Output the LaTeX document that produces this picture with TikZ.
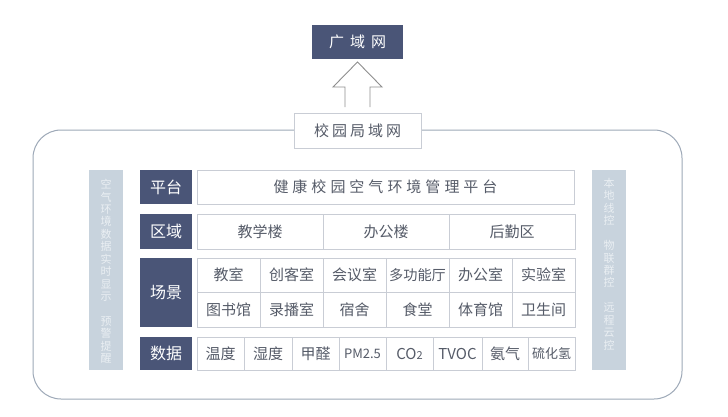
\documentclass[tikz,border=0pt]{standalone}
\usepackage{fontspec}
\setmainfont{Noto Sans CJK SC}
\usetikzlibrary{calc}
\definecolor{navy}{HTML}{4A5577}
\definecolor{cellc}{HTML}{C9CDD5}
\definecolor{txt}{HTML}{555B68}
\definecolor{side}{HTML}{C8D3DD}
\definecolor{sidetxt}{HTML}{EAEFF3}
\definecolor{framec}{HTML}{9EA9B8}
\definecolor{arrowc}{HTML}{8E8E8E}
\begin{document}
\begin{tikzpicture}[x=1pt,y=-1pt,
  box/.style={anchor=north west, inner sep=0pt, outer sep=0pt},
  cell/.style={box, draw=cellc, line width=0.8pt, fill=white, text=txt, font=\fontsize{15}{15}\selectfont},
  lab/.style={box, fill=navy, text=white, font=\fontsize{16}{16}\selectfont, minimum width=52pt},
  sidebar/.style={box, fill=side, minimum width=34pt, minimum height=200pt},
  vtext/.style={text=sidetxt, font=\fontsize{11}{12.45}\selectfont, align=center, inner sep=0pt}
]
\useasboundingbox (0,0) rectangle (728,416);
\fill[white] (0,0) rectangle (728,416);

% outer frame
\draw[framec, line width=1pt, rounded corners=28pt] (33,130) rectangle (682,399);

% top boxes
\node[box, fill=navy, text=white, minimum width=91pt, minimum height=34pt,
      font=\fontsize{15}{15}\selectfont] (wan) at (312,25) {广\kern6pt 域\kern6pt 网};
\node[box, draw=cellc, line width=0.8pt, fill=white, text=txt, minimum width=127pt, minimum height=35pt,
      font=\fontsize{15}{15}\selectfont] (lan) at (294,113) {校\kern3pt 园\kern3pt 局\kern3pt 域\kern3pt 网};

% hollow arrow
\draw[arrowc, line width=0.9pt, line join=miter]
  ($(lan.north)+(-12.5,-6)$) -- ++(0,-20) -- ++(-12,0) -- ($(wan.south)+(0,3)$)
  -- ($(lan.north)+(24.5,-26)$) -- ($(lan.north)+(12.5,-26)$) -- ($(lan.north)+(12.5,-6)$);

% side bars
\node[sidebar] (sideL) at (89,170) {};
\node[sidebar] (sideR) at (592,170) {};
\node[vtext] (vtL) at ($(sideL.center)+(0,1.5)$) {空\\气\\环\\境\\数\\据\\实\\时\\显\\示\\\mbox{}\\预\\警\\提\\醒};
\node[vtext] (vtR) at ($(sideR.center)+(0,-6)$) {本\\地\\线\\控\\\mbox{}\\物\\联\\群\\控\\\mbox{}\\远\\程\\云\\控};

% row labels
\node[lab, minimum height=34pt] (lPlat) at (140,170) {平台};
\node[lab, minimum height=35pt] (lReg) at (140,214) {区域};
\node[lab, minimum height=69pt] (lScene) at (140,258) {场景};
\node[lab, minimum height=33pt] (lData) at (140,337) {数据};

% platform
\node[cell, minimum width=377pt, minimum height=34pt] (plat) at (197,170)
  {健\kern4pt 康\kern4pt 校\kern4pt 园\kern4pt 空\kern4pt 气\kern4pt 环\kern4pt 境\kern4pt 管\kern4pt 理\kern4pt 平\kern4pt 台};

% regions
\node[cell, minimum width=126pt, minimum height=35pt] (r1) at (197,214) {教学楼};
\node[cell, minimum width=126pt, minimum height=35pt] (r2) at (323,214) {办公楼};
\node[cell, minimum width=126pt, minimum height=35pt] (r3) at (449,214) {后勤区};

% scenes row 1
\node[cell, minimum width=63pt, minimum height=34pt] (s1) at (197,258) {教室};
\node[cell, minimum width=63pt, minimum height=34pt] (s2) at (260,258) {创客室};
\node[cell, minimum width=63pt, minimum height=34pt] (s3) at (323,258) {会议室};
\node[cell, minimum width=63pt, minimum height=34pt, font=\fontsize{14.2}{14}\selectfont] (s4) at (386,258) {多功能厅};
\node[cell, minimum width=63pt, minimum height=34pt] (s5) at (449,258) {办公室};
\node[cell, minimum width=63pt, minimum height=34pt] (s6) at (512,258) {实验室};
% scenes row 2
\node[cell, minimum width=63pt, minimum height=35pt] (t1) at (197,292) {图书馆};
\node[cell, minimum width=63pt, minimum height=35pt] (t2) at (260,292) {录播室};
\node[cell, minimum width=63pt, minimum height=35pt] (t3) at (323,292) {宿舍};
\node[cell, minimum width=63pt, minimum height=35pt] (t4) at (386,292) {食堂};
\node[cell, minimum width=63pt, minimum height=35pt] (t5) at (449,292) {体育馆};
\node[cell, minimum width=63pt, minimum height=35pt] (t6) at (512,292) {卫生间};

% data
\node[cell, minimum width=47pt, minimum height=33pt] (d1) at (197,337) {温度};
\node[cell, minimum width=48pt, minimum height=33pt] (d2) at (244,337) {湿度};
\node[cell, minimum width=47pt, minimum height=33pt] (d3) at (292,337) {甲醛};
\node[cell, minimum width=47pt, minimum height=33pt, font=\fontsize{13}{13}\selectfont] (d4) at (339,337) {PM2.5};
\node[cell, minimum width=47pt, minimum height=33pt] (d5) at (386,337) {CO{\fontsize{11}{11}\selectfont 2}};
\node[cell, minimum width=49pt, minimum height=33pt] (d6) at (433,337) {TVOC};
\node[cell, minimum width=46pt, minimum height=33pt] (d7) at (482,337) {氨气};
\node[cell, minimum width=47pt, minimum height=33pt, font=\fontsize{13}{13}\selectfont] (d8) at (528,337) {硫化氢};
\end{tikzpicture}
\end{document}
